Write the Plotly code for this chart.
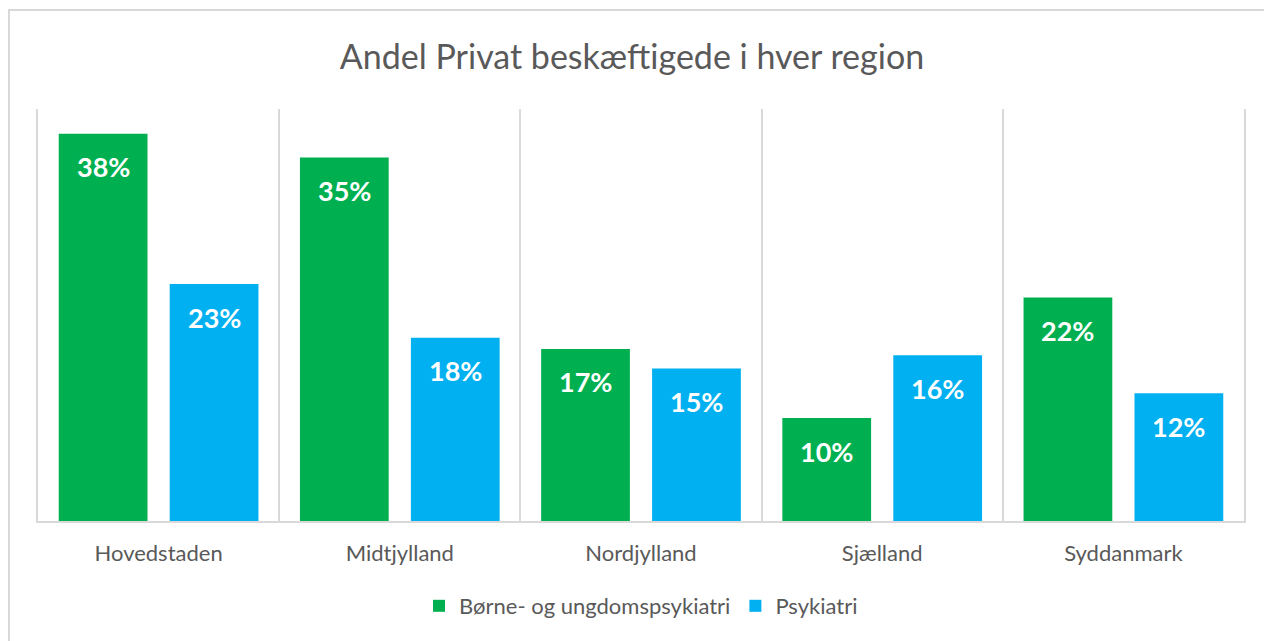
import plotly.graph_objects as go

regions = ["Hovedstaden", "Midtjylland", "Nordjylland", "Sjælland", "Syddanmark"]
boerne_ungdom = [0.376, 0.353, 0.167, 0.100, 0.217]
psykiatri = [0.230, 0.178, 0.148, 0.161, 0.124]
series_names = ["Børne- og ungdomspsykiatri", "Psykiatri"]
series_colors = ["#00B050", "#00B0F0"]

W, H = 1264, 641
ML, MR, MT, MB = 38, 20, 109, 120
FONT = "Lato"
GRID = "#d9d9d9"

fig = go.Figure()
for name, vals, col in zip(series_names, [boerne_ungdom, psykiatri], series_colors):
    fig.add_trace(go.Bar(x=regions, y=vals, name=name, marker_color=col,
                         marker_line_width=0, hoverinfo="skip"))

# data labels placed inside, a bit below each bar top
bargap, groupgap = 0.08, 0.2
slot = (1 - bargap) / 2
offsets = [-slot / 2, slot / 2]
annotations = []
for off, vals in zip(offsets, [boerne_ungdom, psykiatri]):
    for i, v in enumerate(vals):
        annotations.append(dict(x=i + off, y=v, xref="x", yref="y",
                                text=f"{round(v * 100):.0f}%", showarrow=False,
                                yshift=-33, yanchor="middle",
                                font=dict(family=FONT, size=27, color="white", weight="bold")))

pw = W - ML - MR
ph = H - MT - MB
fig.update_layout(
    width=W, height=H,
    margin=dict(l=ML, r=MR, t=MT, b=MB),
    paper_bgcolor="white", plot_bgcolor="white",
    barmode="group", bargap=bargap, bargroupgap=groupgap,
    title=dict(text="Andel Privat beskæftigede i hver region", x=0.5, xanchor="center",
               y=1 - 57 / H, yanchor="middle",
               font=dict(family=FONT, size=34, color="#595959")),
    font=dict(family=FONT, color="#595959"),
    xaxis=dict(tickson="boundaries", showgrid=True, gridcolor=GRID, gridwidth=1.5,
               showline=True, linecolor=GRID, linewidth=1.5, ticks="", ticklen=0,
               ticklabelstandoff=12,
               tickfont=dict(family=FONT, size=22, color="#595959"), fixedrange=True),
    yaxis=dict(range=[0, 0.4], showticklabels=False, ticks="", showgrid=False, zeroline=False,
               showline=True, mirror=True, linecolor=GRID, linewidth=1.5, fixedrange=True),
    legend=dict(orientation="h", x=0.5, xanchor="center", y=(521 - 606) / ph, yanchor="middle",
                font=dict(family=FONT, size=22, color="#595959"), traceorder="normal"),
    annotations=annotations,
    shapes=[dict(type="rect", xref="paper", yref="paper",
                 x0=(9 - ML) / pw, x1=(W + 20 - ML) / pw,
                 y0=(H - MB - 10) / ph, y1=(H - MB - H - 20) / ph,
                 line=dict(color=GRID, width=2), fillcolor="rgba(0,0,0,0)", layer="below")],
    showlegend=True,
)

fig.write_html("out.html", config={"displayModeBar": False},
               post_script="document.body.style.margin='0';document.body.style.overflow='hidden';")
